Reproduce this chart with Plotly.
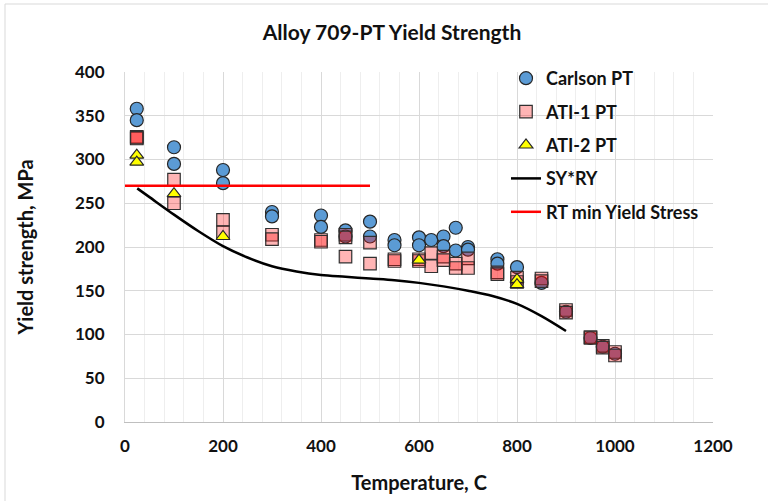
import plotly.graph_objects as go

# ---------------- data ----------------
carlson_T = [24, 24, 100, 100, 200, 200, 300, 300, 400, 400, 450, 450, 500, 500,
             550, 550, 600, 600, 625, 650, 650, 675, 675, 700, 700, 760, 760,
             800, 850, 900, 950, 975, 1000]
carlson_Y = [358, 345, 314, 295, 288, 273, 240, 235, 236, 223, 219, 212, 229, 212,
             208, 202, 211, 202, 208, 212, 201, 222, 196, 200, 197, 186, 181,
             177, 159, 126, 96, 86, 78]

ati1_T = [24, 24, 24, 100, 100, 200, 200, 300, 300, 400, 400, 450, 450, 450,
          500, 500, 550, 550, 600, 600, 625, 625, 650, 650, 675, 675, 700, 700,
          760, 760, 800, 800, 850, 850, 900, 900, 950, 950, 975, 975, 1000, 1000]
ati1_Y = [326, 324, 325, 277, 250, 231, 217, 214, 209, 208, 206, 214, 211, 189,
          205, 181, 186, 184, 186, 184, 193, 178, 189, 185, 181, 176, 187, 176,
          171, 169, 165, 160, 164, 161, 128, 125, 97, 96, 87, 85, 80, 76]

ati2_T = [24, 24, 100, 200, 600, 800, 800]
ati2_Y = [305, 297, 261, 212, 185, 163, 157]

syry_T = [25, 50, 100, 150, 200, 250, 300, 350, 400, 450, 500, 550, 600, 650,
          700, 750, 800, 850, 900]
syry_Y = [267, 257, 237, 218, 201, 188, 178, 172, 168, 166, 164, 162, 159, 155,
          150, 144, 135, 121, 104]

rtmin_T = [0, 500]
rtmin_Y = [270, 270]

title_text = "Alloy 709-PT Yield Strength"
x_title = "Temperature, C"
y_title = "Yield strength, MPa"
x_ticks = [0, 200, 400, 600, 800, 1000, 1200]
y_ticks = [0, 50, 100, 150, 200, 250, 300, 350, 400]

FONT = "Lato"
TXT = "#111111"

fig = go.Figure()
fig.add_trace(go.Scatter(
    x=carlson_T, y=carlson_Y, mode="markers", name="Carlson PT", legendgroup="a",
    marker=dict(symbol="circle", size=13, color="#5B9BD5",
                line=dict(color="#262626", width=1.2))))
fig.add_trace(go.Scatter(
    x=ati1_T, y=ati1_Y, mode="markers", name="ATI-1 PT", legendgroup="b",
    marker=dict(symbol="square", size=12.5, color="rgba(255,10,10,0.3)",
                line=dict(color="#303030", width=1.2))))
fig.add_trace(go.Scatter(
    x=ati2_T, y=ati2_Y, mode="markers", name="ATI-2 PT", legendgroup="c",
    marker=dict(symbol="triangle-up", size=12, color="#FFFF00",
                line=dict(color="#262626", width=1.2))))
fig.add_trace(go.Scatter(
    x=syry_T, y=syry_Y, mode="lines", name="SY*RY", legendgroup="d",
    line=dict(color="black", width=2.5, shape="spline", smoothing=0.9)))
fig.add_trace(go.Scatter(
    x=rtmin_T, y=rtmin_Y, mode="lines", name="RT min Yield Stress", legendgroup="e",
    line=dict(color="#FF0000", width=2.5)))

L, R, T, B = 125, 55, 72, 79
W, H = 768, 501
pw, ph = W - L - R, H - T - B

def px2x(p):
    return (p - L) / pw

def py2y(p):
    return (H - B - p) / ph

fig.add_shape(type="rect", xref="paper", yref="paper",
              x0=px2x(5), x1=px2x(775), y0=py2y(505), y1=py2y(4),
              line=dict(color="#d9d9d9", width=1), layer="below")

fig.update_layout(
    width=W, height=H,
    margin=dict(l=L, r=R, t=T, b=B, pad=0),
    paper_bgcolor="white", plot_bgcolor="white",
    font=dict(family=FONT, color=TXT),
    title=dict(text=title_text, x=392 / W, xref="container", xanchor="center",
               y=1 - 33 / H, yref="container", yanchor="middle",
               font=dict(size=21, family=FONT, weight="bold", color=TXT)),
    showlegend=True,
    legend=dict(x=px2x(506), y=py2y(60), xanchor="left", yanchor="top",
                bgcolor="rgba(0,0,0,0)", tracegroupgap=7,
                font=dict(size=18, family=FONT, weight="bold", color=TXT)),
    xaxis=dict(range=[0, 1200], tickvals=x_ticks, showgrid=True,
               gridcolor="#d9d9d9", gridwidth=1,
               minor=dict(dtick=40, showgrid=True, gridcolor="#eeeeee", gridwidth=1),
               showline=True, linecolor="#bfbfbf", linewidth=1, zeroline=False,
               ticks="", ticklabelstandoff=9,
               tickfont=dict(size=17, family=FONT, weight="bold", color=TXT),
               title=dict(text=x_title, standoff=20,
                          font=dict(size=20, family=FONT, weight="bold", color=TXT))),
    yaxis=dict(range=[0, 400], tickvals=y_ticks, showgrid=True,
               gridcolor="#d9d9d9", gridwidth=1,
               showline=True, linecolor="#d9d9d9", linewidth=1, zeroline=False,
               ticks="", ticklabelstandoff=16,
               tickfont=dict(size=17, family=FONT, weight="bold", color=TXT),
               title=dict(text=y_title, standoff=36,
                          font=dict(size=20, family=FONT, weight="bold", color=TXT))),
)

fig.write_html("out.html")
